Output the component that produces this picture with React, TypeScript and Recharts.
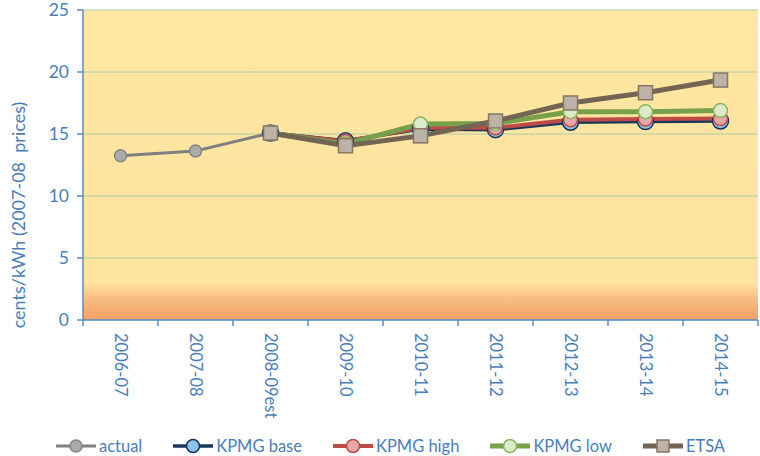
import React from 'react';
import {
  LineChart,
  Line,
  XAxis,
  YAxis,
  CartesianGrid,
  Legend,
} from 'recharts';

// Financial years on the category axis
const years = [
  '2006-07',
  '2007-08',
  '2008-09est',
  '2009-10',
  '2010-11',
  '2011-12',
  '2012-13',
  '2013-14',
  '2014-15',
];

// cents/kWh in 2007-08 prices (null = no value for that year)
const actual = [13.25, 13.63, 15.08, null, null, null, null, null, null];
const kpmgBase = [null, null, 15.08, 14.45, 15.4, 15.35, 15.95, 16.0, 16.05];
const kpmgHigh = [null, null, 15.08, 14.4, 15.5, 15.5, 16.15, 16.2, 16.25];
const kpmgLow = [null, null, 15.08, 14.2, 15.8, 15.85, 16.8, 16.8, 16.9];
const etsa = [null, null, 15.08, 14.05, 14.85, 16.05, 17.5, 18.33, 19.35];

const yTicks = [0, 5, 10, 15, 20, 25];

const data = years.map((year, i) => ({
  year,
  actual: actual[i],
  kpmgBase: kpmgBase[i],
  kpmgHigh: kpmgHigh[i],
  kpmgLow: kpmgLow[i],
  etsa: etsa[i],
}));

const FONT = 'Lato, "Open Sans", sans-serif';
const TEXT_BLUE = '#4A7EBB';
const AXIS_BLUE = '#5B8BC9';
const GRID_GREEN = '#A9CDA6';

type SeriesStyle = {
  key: string;
  name: string;
  stroke: string;
  width: number;
  fill: string;
  markerStroke: string;
  shape: 'circle' | 'square';
  size: number;
};

const series: SeriesStyle[] = [
  { key: 'actual', name: 'actual', stroke: '#808080', width: 3, fill: '#ABABAB', markerStroke: '#858585', shape: 'circle', size: 6 },
  { key: 'kpmgBase', name: 'KPMG base', stroke: '#17375E', width: 3.5, fill: '#8EC3EF', markerStroke: '#17375E', shape: 'circle', size: 8 },
  { key: 'kpmgHigh', name: 'KPMG high', stroke: '#BE4B48', width: 4, fill: '#E8A8A7', markerStroke: '#BE4B48', shape: 'circle', size: 7 },
  { key: 'kpmgLow', name: 'KPMG low', stroke: '#77A04B', width: 5, fill: '#DDEBCB', markerStroke: '#8DB560', shape: 'circle', size: 7 },
  { key: 'etsa', name: 'ETSA', stroke: '#736453', width: 5, fill: '#BCB2A6', markerStroke: '#867563', shape: 'square', size: 7 },
];

const Marker = ({ cx, cy, s }: { cx: number; cy: number; s: SeriesStyle }) =>
  s.shape === 'square' ? (
    <rect
      x={cx - s.size}
      y={cy - s.size}
      width={s.size * 2}
      height={s.size * 2}
      fill={s.fill}
      stroke={s.markerStroke}
      strokeWidth={1.5}
    />
  ) : (
    <circle cx={cx} cy={cy} r={s.size} fill={s.fill} stroke={s.markerStroke} strokeWidth={1.5} />
  );

const makeDot = (s: SeriesStyle) => (props: any) => {
  const { cx, cy, index, value } = props;
  if (value == null || cx == null || cy == null) return <g key={`${s.key}-${index}`} />;
  return (
    <g key={`${s.key}-${index}`}>
      <Marker cx={cx} cy={cy} s={s} />
    </g>
  );
};

const PLOT_WIDTH = 675;
const BAND = PLOT_WIDTH / years.length;

const XTick = (props: any) => {
  const { x, y, payload, index } = props;
  const tickLen = 6;
  return (
    <g>
      <line x1={x - BAND / 2} x2={x - BAND / 2} y1={y} y2={y + tickLen} stroke={AXIS_BLUE} strokeWidth={1.5} />
      {index === years.length - 1 && (
        <line x1={x + BAND / 2} x2={x + BAND / 2} y1={y} y2={y + tickLen} stroke={AXIS_BLUE} strokeWidth={1.5} />
      )}
      <text
        x={0}
        y={0}
        transform={`translate(${x},${y + 13}) rotate(90)`}
        textAnchor="start"
        dominantBaseline="central"
        fill={TEXT_BLUE}
        fontSize={16.5}
        fontFamily={FONT}
      >
        {payload.value}
      </text>
    </g>
  );
};

const YLabel = (props: any) => {
  const vb = props.viewBox || { x: 0, y: 10, width: 83, height: 310 };
  const cx = vb.x + 18;
  const cy = vb.y + vb.height / 2 + 50;
  return (
    <text
      x={0}
      y={0}
      transform={`translate(${cx},${cy}) rotate(-90)`}
      textAnchor="middle"
      dominantBaseline="central"
      fill={TEXT_BLUE}
      fontSize={18}
      fontFamily={FONT}
      style={{ whiteSpace: 'pre' }}
    >
      {'cents/kWh (2007-08  prices)'}
    </text>
  );
};

const LegendContent = () => (
  <div
    style={{
      height: 36,
      boxSizing: 'border-box',
      paddingTop: 16,
      paddingLeft: 22,
      display: 'flex',
      justifyContent: 'center',
      alignItems: 'center',
      gap: 30,
      fontFamily: FONT,
      fontSize: 16.5,
      color: TEXT_BLUE,
      lineHeight: '20px',
    }}
  >
    {series.map((s) => (
      <div key={s.key} style={{ display: 'flex', alignItems: 'center', gap: 2 }}>
        <svg width={42} height={20}>
          <line x1={1} x2={41} y1={10} y2={10} stroke={s.stroke} strokeWidth={s.width} />
          <Marker cx={21} cy={10} s={{ ...s, size: s.shape === 'square' ? 6 : Math.min(s.size, 6.5) }} />
        </svg>
        <span>{s.name}</span>
      </div>
    ))}
  </div>
);

export default function App() {
  return (
    <div style={{ position: 'absolute', left: 0, top: 0, width: 760, height: 456, background: '#fff' }}>
      <LineChart width={760} height={456} data={data} margin={{ top: 10, right: 2, left: 0, bottom: 0 }}>
        <defs>
          <linearGradient id="plotBg" x1="0" y1="0" x2="0" y2="1">
            <stop offset="0" stopColor="#FFE6A1" />
            <stop offset="0.88" stopColor="#FFE4A0" />
            <stop offset="0.93" stopColor="#F9BE82" />
            <stop offset="1" stopColor="#F4A066" />
          </linearGradient>
        </defs>
        <CartesianGrid
          vertical={false}
          stroke={GRID_GREEN}
          strokeWidth={1.2}
          fill="url(#plotBg)"
          fillOpacity={1}
        />
        <XAxis
          dataKey="year"
          height={100}
          interval={0}
          padding={{ left: BAND / 2, right: BAND / 2 }}
          tick={<XTick />}
          tickLine={false}
          tickSize={0}
          tickMargin={0}
          axisLine={{ stroke: AXIS_BLUE, strokeWidth: 1.5 }}
        />
        <YAxis
          width={83}
          domain={[0, 25]}
          ticks={yTicks}
          interval={0}
          tickSize={6}
          tickMargin={8}
          tick={{ fill: TEXT_BLUE, fontSize: 17.5, fontFamily: FONT }}
          tickLine={{ stroke: AXIS_BLUE, strokeWidth: 1.5 }}
          axisLine={{ stroke: AXIS_BLUE, strokeWidth: 1.5 }}
          label={<YLabel />}
        />
        <Legend verticalAlign="bottom" content={<LegendContent />} />
        {series.map((s) => (
          <Line
            key={s.key}
            type="linear"
            dataKey={s.key}
            name={s.name}
            stroke={s.stroke}
            strokeWidth={s.width}
            dot={makeDot(s)}
            activeDot={false}
            connectNulls={false}
            isAnimationActive={false}
          />
        ))}
      </LineChart>
    </div>
  );
}
